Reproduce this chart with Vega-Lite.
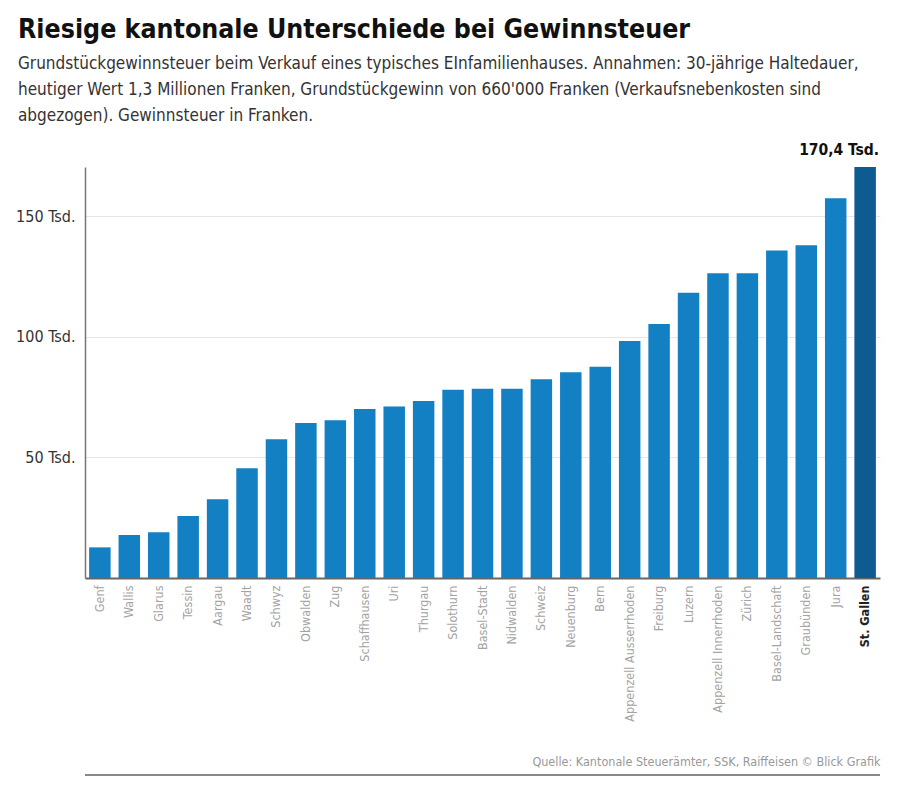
{
  "$schema": "https://vega.github.io/schema/vega-lite/v6.json",
  "width": 795,
  "height": 411,
  "autosize": {"type": "none"},
  "padding": {"left": 85, "top": 167, "right": 20, "bottom": 211},
  "background": "white",
  "config": {
    "view": {"stroke": null},
    "font": "'Liberation Sans Narrow', 'DejaVu Sans Condensed', 'Roboto Condensed', 'Liberation Sans', sans-serif"
  },
  "title": {
    "text": "Riesige kantonale Unterschiede bei Gewinnsteuer",
    "subtitle": [
      "Grundstückgewinnsteuer beim Verkauf eines typisches EInfamilienhauses. Annahmen: 30-jährige Haltedauer,",
      "heutiger Wert 1,3 Millionen Franken, Grundstückgewinn von 660'000 Franken (Verkaufsnebenkosten sind",
      "abgezogen). Gewinnsteuer in Franken."
    ],
    "anchor": "start",
    "frame": "group",
    "dx": -67,
    "offset": 19,
    "font": "'Liberation Sans Narrow', 'DejaVu Sans Condensed', 'Roboto Condensed', 'Liberation Sans', sans-serif",
    "fontSize": 26.5,
    "fontWeight": "bold",
    "color": "#111111",
    "subtitleFont": "'Liberation Sans Narrow', 'DejaVu Sans Condensed', 'Roboto Condensed', 'Liberation Sans', sans-serif",
    "subtitleFontSize": 17,
    "subtitleColor": "#333333",
    "subtitleLineHeight": 26,
    "subtitlePadding": 13
  },
  "data": {
    "values": [
      {"kanton": "Genf", "steuer": 12700},
      {"kanton": "Wallis", "steuer": 17800},
      {"kanton": "Glarus", "steuer": 19000},
      {"kanton": "Tessin", "steuer": 25700},
      {"kanton": "Aargau", "steuer": 32600},
      {"kanton": "Waadt", "steuer": 45500},
      {"kanton": "Schwyz", "steuer": 57500},
      {"kanton": "Obwalden", "steuer": 64300},
      {"kanton": "Zug", "steuer": 65400},
      {"kanton": "Schaffhausen", "steuer": 70100},
      {"kanton": "Uri", "steuer": 71100},
      {"kanton": "Thurgau", "steuer": 73400},
      {"kanton": "Solothurn", "steuer": 78000},
      {"kanton": "Basel-Stadt", "steuer": 78500},
      {"kanton": "Nidwalden", "steuer": 78500},
      {"kanton": "Schweiz", "steuer": 82400},
      {"kanton": "Neuenburg", "steuer": 85300},
      {"kanton": "Bern", "steuer": 87600},
      {"kanton": "Appenzell Ausserrhoden", "steuer": 98300},
      {"kanton": "Freiburg", "steuer": 105300},
      {"kanton": "Luzern", "steuer": 118300},
      {"kanton": "Appenzell Innerrhoden", "steuer": 126300},
      {"kanton": "Zürich", "steuer": 126300},
      {"kanton": "Basel-Landschaft", "steuer": 135800},
      {"kanton": "Graubünden", "steuer": 138000},
      {"kanton": "Jura", "steuer": 157400},
      {"kanton": "St. Gallen", "steuer": 170400}
    ]
  },
  "encoding": {
    "y": {
      "field": "steuer",
      "type": "quantitative",
      "scale": {"domain": [0, 170400], "nice": false, "zero": true},
      "axis": {
        "title": null,
        "values": [50000, 100000, 150000],
        "labelExpr": "format(datum.value / 1000, 'd') + ' Tsd.'",
        "labelFontSize": 16,
        "labelColor": "#333333",
        "labelPadding": 10,
        "ticks": false,
        "domainColor": "#777777",
        "domainWidth": 1.5,
        "grid": true,
        "gridColor": "#e6e6e6",
        "gridWidth": 1
      }
    }
  },
  "layer": [
    {
      "mark": {"type": "bar"},
      "encoding": {
        "x": {
          "field": "kanton",
          "type": "nominal",
          "sort": null,
          "scale": {"paddingInner": 0.27, "paddingOuter": 0.14},
          "axis": {
            "title": "Quelle: Kantonale Steuerämter, SSK, Raiffeisen © Blick Grafik",
            "titleAnchor": "end",
            "titleAlign": "right",
            "titleBaseline": "alphabetic",
            "titleY": 187,
            "titleX": 795,
            "titleFontSize": 12.5,
            "titleFontWeight": "normal",
            "titleColor": "#999999",
            "labelAngle": -90,
            "labelPadding": 7,
            "labelFontSize": 12.5,
            "labelColor": {"condition": {"test": "datum.value === 'St. Gallen'", "value": "#222222"}, "value": "#a3a3a3"},
            "labelFontWeight": {"condition": {"test": "datum.value === 'St. Gallen'", "value": "bold"}, "value": "normal"},
            "ticks": false,
            "domainColor": "#666666",
            "domainWidth": 2,
            "grid": false
          }
        },
        "color": {
          "condition": {"test": "datum.kanton === 'St. Gallen'", "value": "#0d5b91"},
          "value": "#1380c3"
        }
      }
    },
    {
      "mark": {"type": "text", "baseline": "bottom", "align": "right", "dx": 14, "dy": -9, "fontSize": 15.5, "fontWeight": "bold", "color": "#111111"},
      "encoding": {
        "x": {"field": "kanton", "type": "nominal", "sort": null},
        "text": {
          "condition": {"test": "datum.kanton === 'St. Gallen'", "value": "170,4 Tsd."},
          "value": ""
        }
      }
    },
    {
      "mark": {"type": "rule", "color": "#888888", "strokeWidth": 2},
      "encoding": {
        "y": {"datum": -81680}
      }
    }
  ]
}
